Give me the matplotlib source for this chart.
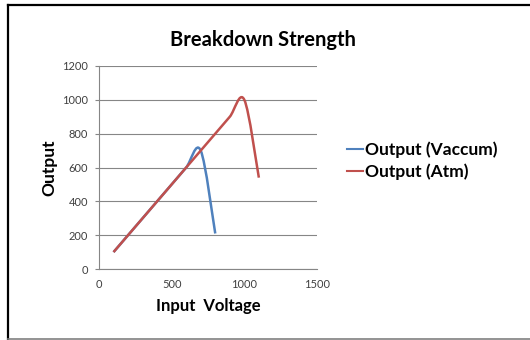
import matplotlib.pyplot as plt
from matplotlib.path import Path
from matplotlib.patches import PathPatch
from matplotlib.lines import Line2D

plt.rcParams['font.family'] = ['Lato', 'DejaVu Sans']

# readings
voltage_vac = [100, 200, 300, 400, 500, 600, 700, 800]
output_vac = [100, 200, 300, 400, 500, 600, 700, 210]
voltage_atm = [100, 200, 300, 400, 500, 600, 700, 800, 900, 1000, 1100]
output_atm = [100, 200, 300, 400, 500, 600, 700, 800, 900, 1000, 540]

x_ticks = [0, 500, 1000, 1500]
y_ticks = [0, 200, 400, 600, 800, 1000, 1200]

blue = '#4F81BD'
red = '#C0504D'


def smooth_path(xs, ys):
    # cubic bezier through the points, excel style smoothing
    n = len(xs)
    verts = [(xs[0], ys[0])]
    codes = [Path.MOVETO]
    for i in range(n - 1):
        x0, y0 = xs[max(i - 1, 0)], ys[max(i - 1, 0)]
        x1, y1 = xs[i], ys[i]
        x2, y2 = xs[i + 1], ys[i + 1]
        x3, y3 = xs[min(i + 2, n - 1)], ys[min(i + 2, n - 1)]
        c1 = (x1 + (x2 - x0) / 6, y1 + (y2 - y0) / 6)
        c2 = (x2 - (x3 - x1) / 6, y2 - (y3 - y1) / 6)
        verts += [c1, c2, (x2, y2)]
        codes += [Path.CURVE4] * 3
    return Path(verts, codes)


fig = plt.figure(figsize=(5.3, 3.4), dpi=100)
ax = fig.add_axes([0.1868, 0.2088, 0.4113, 0.5971])

for xs, ys, c in [(voltage_vac, output_vac, blue), (voltage_atm, output_atm, red)]:
    ax.add_patch(PathPatch(smooth_path(xs, ys), facecolor='none',
                           edgecolor=c, lw=1.8, capstyle='butt'))

ax.set_xlim(0, 1500)
ax.set_ylim(0, 1200)
ax.set_xticks(x_ticks)
ax.set_yticks(y_ticks)
ax.tick_params(axis='x', length=0, labelsize=8, colors='#404040', pad=7)
ax.tick_params(axis='y', length=3, width=0.8, labelsize=8, colors='#404040',
               color='#868686', pad=5)
ax.grid(axis='y', color='#868686', lw=0.8)
ax.set_axisbelow(True)
for s in ['top', 'right']:
    ax.spines[s].set_visible(False)
for s in ['left', 'bottom']:
    ax.spines[s].set_color('#868686')
    ax.spines[s].set_linewidth(0.8)

ax.set_xlabel('Input  Voltage', fontsize=12, fontweight='bold', labelpad=6)
ax.set_ylabel('Output', fontsize=12.5, fontweight='bold', labelpad=3)
fig.text(0.496, 0.882, 'Breakdown Strength', ha='center', va='center',
         fontsize=14.5, fontweight='bold')

handles = [Line2D([], [], color=blue, lw=1.5), Line2D([], [], color=red, lw=1.5)]
fig.legend(handles, ['Output (Vaccum)', 'Output (Atm)'], loc='center left',
           bbox_to_anchor=(0.626, 0.528), frameon=False, handlelength=0.9,
           handletextpad=0.1, labelspacing=0.3,
           prop={'size': 12.5, 'weight': 'bold'})

# outer frame: black top and left, grey bottom
fig.add_artist(Line2D([7.5 / 530, 1], [1 - 5 / 340, 1 - 5 / 340],
                      transform=fig.transFigure, color='black', lw=1.6))
fig.add_artist(Line2D([7.5 / 530, 7.5 / 530], [0, 1 - 5 / 340],
                      transform=fig.transFigure, color='black', lw=1.6))
fig.add_artist(Line2D([7.5 / 530, 1], [0.8 / 340, 0.8 / 340],
                      transform=fig.transFigure, color='#808080', lw=1.2))

fig.savefig('out.png', dpi=100)
